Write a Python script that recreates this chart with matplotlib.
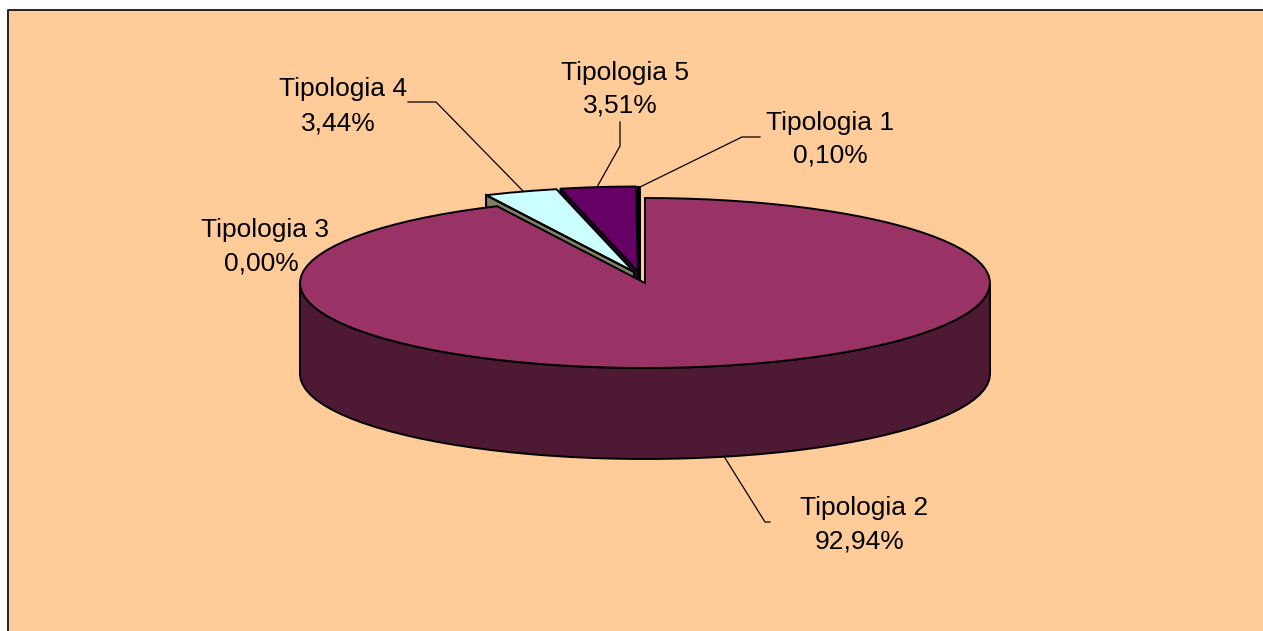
import numpy as np
import matplotlib
matplotlib.use('Agg')
import matplotlib.pyplot as plt
from matplotlib.patches import Polygon

plt.rcParams['font.family'] = ['Liberation Sans', 'DejaVu Sans']

# data, in pie order (clockwise from 12 o'clock)
labels = ['Tipologia 1', 'Tipologia 2', 'Tipologia 3', 'Tipologia 4', 'Tipologia 5']
shares = [0.10, 92.94, 0.00, 3.44, 3.51]
pct_labels = ['0,10%', '92,94%', '0,00%', '3,44%', '3,51%']

# styles
top_colors = ['#000000', '#993366', '#808066', '#CCFFFF', '#660066']
side_colors = ['#000000', '#4D1933', '#808066', '#808066', '#330033']
offsets = [(-5, -11), (0, 0), (-11, -11), (-11, -11), (-7, -11.5)]
BG = '#FFCC99'
CX, CY, RX, RY, DEPTH = 645, 283, 345, 85, 91

fig = plt.figure(figsize=(12.63, 6.31), dpi=100, facecolor='white')
ax = fig.add_axes([0, 0, 1, 1])
ax.set_xlim(0, 1263)
ax.set_ylim(631, 0)
ax.axis('off')

# chart area: only top and left borders are in the crop
ax.add_patch(Polygon([[8, 10], [1263, 10], [1263, 631], [8, 631]], closed=True,
                     fc=BG, ec='none', zorder=0))
ax.plot([8, 8, 1263], [631, 10, 10], color='#222222', lw=1.4, zorder=1,
        solid_capstyle='butt')


def rim(a0, a1, dx=0, dy=0):
    # points on the ellipse, angle in degrees clockwise from the top
    n = max(2, int(abs(a1 - a0) / 3.5) + 1)
    a = np.radians(np.linspace(a0, a1, n))
    return np.column_stack([CX + dx + RX * np.sin(a), CY + dy - RY * np.cos(a)])


# first slice sits just left of 12 o'clock so the big one starts vertical
bounds = (np.concatenate([[0], np.cumsum(shares)]) - shares[0]) / sum(shares) * 360
edge = dict(ec='black', lw=1.4, joinstyle='miter')

# rim of the big slice
lower = rim(90, 270)
ax.add_patch(Polygon(np.vstack([lower, lower[::-1] + [0, DEPTH]]), closed=True,
                     fc=side_colors[1], zorder=2, **edge))

# pulled out slices, back to front
for i in [0, 4, 3, 2]:
    dx, dy = offsets[i]
    arc = rim(bounds[i], bounds[i + 1], dx, dy)
    apex = np.array([CX + dx, CY + dy])
    start = arc[0]
    ax.add_patch(Polygon([apex, start, start + [0, DEPTH], apex + [0, DEPTH]], closed=True,
                         fc=side_colors[i], zorder=3, **edge))
    ax.add_patch(Polygon(np.vstack([apex, arc]), closed=True, fc=top_colors[i], zorder=3, **edge))

# big slice top
arc = rim(bounds[1], bounds[2])
ax.add_patch(Polygon(np.vstack([[CX, CY], arc]), closed=True, fc=top_colors[1], zorder=4, **edge))

# leader lines
leaders = [
    ([760, 742, 640], [137, 137, 187]),
    ([770, 765, 725], [522, 522, 458]),
    ([408, 436, 523], [102, 102, 191]),
    ([620, 620, 597], [122, 146, 187]),
]
for xs, ys in leaders:
    ax.plot(xs, ys, color='black', lw=0.9, zorder=5)

# labels: name line and percent line are not quite centred on each other
name_pos = [(830, 123), (864, 508), (265, 230), (343, 89), (625, 73)]
pct_pos = [(830, 156), (860, 542), (261, 264), (338, 123), (620, 106)]
for name, pct, p0, p1 in zip(labels, pct_labels, name_pos, pct_pos):
    ax.text(p0[0], p0[1], name, ha='center', va='center', fontsize=19, color='black', zorder=6)
    ax.text(p1[0], p1[1], pct, ha='center', va='center', fontsize=19, color='black', zorder=6)

fig.savefig('out.png', dpi=100, facecolor=fig.get_facecolor())
